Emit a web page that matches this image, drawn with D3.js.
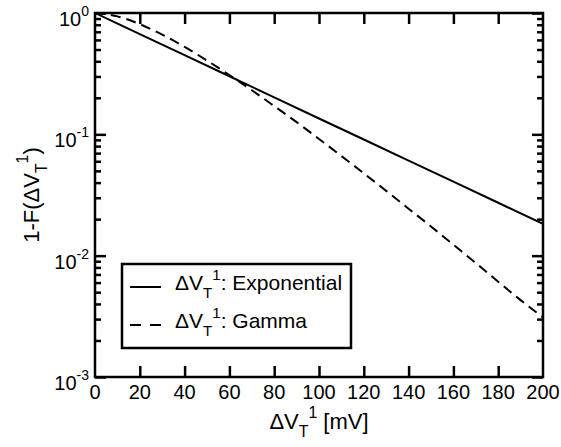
<!DOCTYPE html>
<html>
<head>
<meta charset="utf-8">
<script src="https://cdn.jsdelivr.net/npm/d3@7"></script>
<style>
  body { margin: 0; background: #fff; }
  text { font-family: "Liberation Sans", Arial, sans-serif; fill: #000; }
</style>
</head>
<body>
<svg id="chart" width="561" height="447"></svg>
<script>
// values
const gammaX = [0, 10, 20, 30, 40, 50, 60, 70, 80, 90, 100, 110, 120, 130, 140, 150, 160, 170, 180, 190, 200];
const gammaValues = [1, 0.938, 0.809, 0.663, 0.525, 0.406, 0.308, 0.231, 0.171, 0.126, 0.0916,
                     0.0663, 0.0477, 0.0342, 0.0244, 0.0174, 0.0123, 0.0087, 0.0061, 0.0043, 0.0031];
const expX = [0, 20, 40, 60, 80, 100, 120, 140, 160, 180, 200];
const expValues = [1, 0.67, 0.449, 0.301, 0.202, 0.135, 0.0907, 0.0608, 0.0408, 0.0273, 0.0183];
const xTicks = [0, 20, 40, 60, 80, 100, 120, 140, 160, 180, 200];
const yDecades = [1e-3, 1e-2, 1e-1, 1];
const yExponents = ['-3', '-2', '-1', '0'];
const legendLabels = ['Exponential', 'Gamma'];

const margin = { t: 13, r: 18, b: 70, l: 95 };
const W = 561, H = 447;
const svg = d3.select('#chart');

const x = d3.scaleLinear().domain([0, 200]).range([margin.l, W - margin.r]);
const y = d3.scaleLog().domain([1e-3, 1]).range([H - margin.b, margin.t]);

// minor ticks for log axis
const minorTicks = [];
yDecades.slice(0, -1).forEach(d => {
  for (let k = 2; k <= 9; k++) minorTicks.push(d * k);
});

svg.append('defs').append('clipPath').attr('id', 'plot')
  .append('rect')
    .attr('x', x(0)).attr('y', y(1))
    .attr('width', x(200) - x(0)).attr('height', y(1e-3) - y(1));

// data lines
const line = d3.line().x(d => x(d[0])).y(d => y(d[1]));

svg.append('path')
  .datum(expX.map((v, i) => [v, expValues[i]]))
  .attr('clip-path', 'url(#plot)')
  .attr('fill', 'none').attr('stroke', '#000').attr('stroke-width', 2)
  .attr('d', line);

svg.append('path')
  .datum(gammaX.map((v, i) => [v, gammaValues[i]]))
  .attr('clip-path', 'url(#plot)')
  .attr('fill', 'none').attr('stroke', '#000').attr('stroke-width', 2)
  .attr('stroke-dasharray', '10,6')
  .attr('d', d3.line().curve(d3.curveMonotoneX).x(d => x(d[0])).y(d => y(d[1])));

// axes, ticks pointing inward on all four sides
const axisStyle = g => {
  g.select('.domain').remove();
  g.selectAll('.tick line').attr('stroke', '#000').attr('stroke-width', 2.5);
  g.selectAll('.tick text').remove();
};

svg.append('g').attr('transform', `translate(0,${y(1e-3)})`)
  .call(d3.axisBottom(x).tickValues(xTicks.slice(1, -1)).tickSize(-11)).call(axisStyle);
svg.append('g').attr('transform', `translate(0,${y(1)})`)
  .call(d3.axisTop(x).tickValues(xTicks.slice(1, -1)).tickSize(-11)).call(axisStyle);

svg.append('g').attr('transform', `translate(${x(0)},0)`)
  .call(d3.axisLeft(y).tickValues(yDecades).tickSize(-11)).call(axisStyle);
svg.append('g').attr('transform', `translate(${x(0)},0)`)
  .call(d3.axisLeft(y).tickValues(minorTicks).tickSize(-6)).call(axisStyle);
svg.append('g').attr('transform', `translate(${x(200)},0)`)
  .call(d3.axisRight(y).tickValues(yDecades).tickSize(-11)).call(axisStyle);
svg.append('g').attr('transform', `translate(${x(200)},0)`)
  .call(d3.axisRight(y).tickValues(minorTicks).tickSize(-6)).call(axisStyle);

// frame
svg.append('rect')
  .attr('x', x(0)).attr('y', y(1))
  .attr('width', x(200) - x(0)).attr('height', y(1e-3) - y(1))
  .attr('fill', 'none').attr('stroke', '#000').attr('stroke-width', 2.5);

// x tick labels
svg.append('g').selectAll('text').data(xTicks).join('text')
  .attr('x', d => x(d)).attr('y', y(1e-3) + 22)
  .attr('text-anchor', 'middle').attr('font-size', 20)
  .text(d => d);

// y tick labels 10^n
const yl = svg.append('g').selectAll('text').data(yDecades).join('text')
  .attr('x', x(0) - 6).attr('y', d => y(d) + 13)
  .attr('text-anchor', 'end').attr('font-size', 20);
yl.append('tspan').text('10');
yl.append('tspan').attr('font-size', 14).attr('dy', -10).text((d, i) => yExponents[i]);

// "ΔV_T^1" helper
function deltaV(sel, size) {
  sel.append('tspan').text('\u0394V');
  sel.append('tspan').attr('font-size', size * 0.72).attr('dy', size * 0.38).text('T');
  sel.append('tspan').attr('font-size', size * 0.72).attr('dy', -size * 0.88).text('1');
  return sel.append('tspan').attr('dy', size * 0.5);
}

// x axis title
const xt = svg.append('text')
  .attr('x', (x(0) + x(200)) / 2).attr('y', 429)
  .attr('text-anchor', 'middle').attr('font-size', 22);
deltaV(xt, 22).text(' [mV]');

// y axis title
const yt = svg.append('text')
  .attr('transform', `translate(39,${(y(1) + y(1e-3)) / 2}) rotate(-90)`)
  .attr('text-anchor', 'middle').attr('font-size', 22);
yt.append('tspan').text('1-F(');
deltaV(yt, 22).text(')');

// legend
const legend = svg.append('g');
legend.append('rect')
  .attr('x', 122).attr('y', 264).attr('width', 229).attr('height', 84)
  .attr('fill', '#fff').attr('stroke', '#000').attr('stroke-width', 2.5);

legendLabels.forEach((lab, i) => {
  const cy = 287 + i * 38;
  legend.append('line')
    .attr('x1', 130).attr('x2', 161).attr('y1', cy).attr('y2', cy)
    .attr('stroke', '#000').attr('stroke-width', 2)
    .attr('stroke-dasharray', i === 1 ? '11,9' : null);
  const t = legend.append('text').attr('x', 175).attr('y', cy + 3).attr('font-size', 21);
  deltaV(t, 21).text(': ' + lab);
});
</script>
</body>
</html>
